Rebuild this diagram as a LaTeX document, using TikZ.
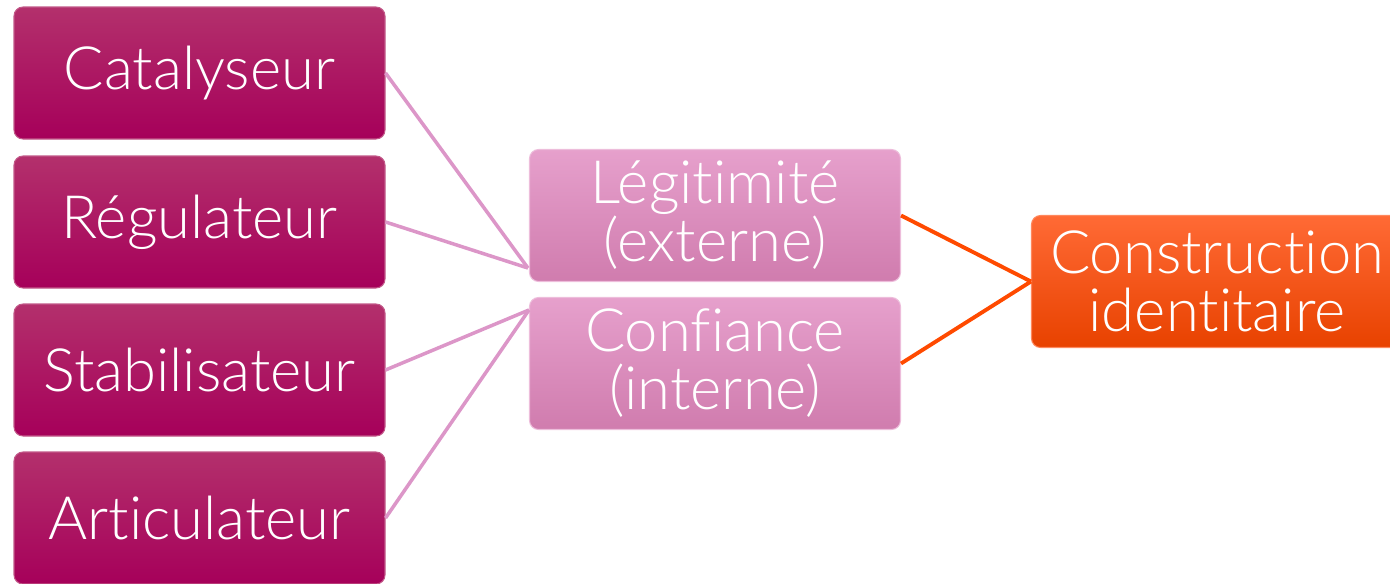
\documentclass[tikz,border=0pt]{standalone}
\usepackage{fontspec}
\setmainfont{Lato}[UprightFont={* Light}, Ligatures=NoCommon]
\definecolor{magtop}{HTML}{B3306C}
\definecolor{magbot}{HTML}{A6005A}
\definecolor{pinktop}{HTML}{E6A0CC}
\definecolor{pinkbot}{HTML}{D07CAE}
\definecolor{orgtop}{HTML}{FF6A35}
\definecolor{orgbot}{HTML}{E84200}
\definecolor{pinkline}{HTML}{DC96C8}
\definecolor{orgline}{HTML}{FF4A00}
\begin{document}
\begin{tikzpicture}[
  box/.style={rectangle, rounded corners=0.18cm, minimum width=7.42cm, minimum height=2.64cm,
    text=white, align=center, font=\fontsize{34}{33}\selectfont, inner sep=0pt},
  leftbox/.style={box, top color=magtop, bottom color=magbot, draw=magtop!80!white, line width=0.6pt},
  midbox/.style={box, top color=pinktop, bottom color=pinkbot, draw=pinktop!70!white, line width=0.6pt},
  endbox/.style={box, top color=orgtop, bottom color=orgbot, draw=orgtop!80!white, line width=0.6pt},
  pinkconn/.style={draw=pinkline, line width=2pt},
  orgconn/.style={draw=orgline, line width=2.2pt}
]
\useasboundingbox (0,0) rectangle (27.8,-11.66);
\node[leftbox] (cat) at (3.99,-1.46) {Catalyseur};
\node[leftbox] (reg) at (3.99,-4.44) {Régulateur};
\node[leftbox] (sta) at (3.99,-7.40) {Stabilisateur};
\node[leftbox] (art) at (3.99,-10.36) {Articulateur};
\node[midbox] (leg) at (14.3,-4.31) {Légitimité\\(externe)};
\node[midbox] (con) at (14.3,-7.27) {Confiance\\(interne)};
\node[endbox] (cid) at (24.34,-5.63) {Construction\\identitaire};
\coordinate (legin) at ([shift={(-0.02,0.28)}]leg.south west);
\coordinate (conin) at ([shift={(0,-0.26)}]con.north west);
\draw[pinkconn] (cat.east) -- (legin);
\draw[pinkconn] (reg.east) -- (legin);
\draw[pinkconn] (sta.east) -- (conin);
\draw[pinkconn] (art.east) -- (conin);
\draw[orgconn] (leg.east) -- (cid.west);
\draw[orgconn] (con.east) -- (cid.west);
\end{tikzpicture}
\end{document}
